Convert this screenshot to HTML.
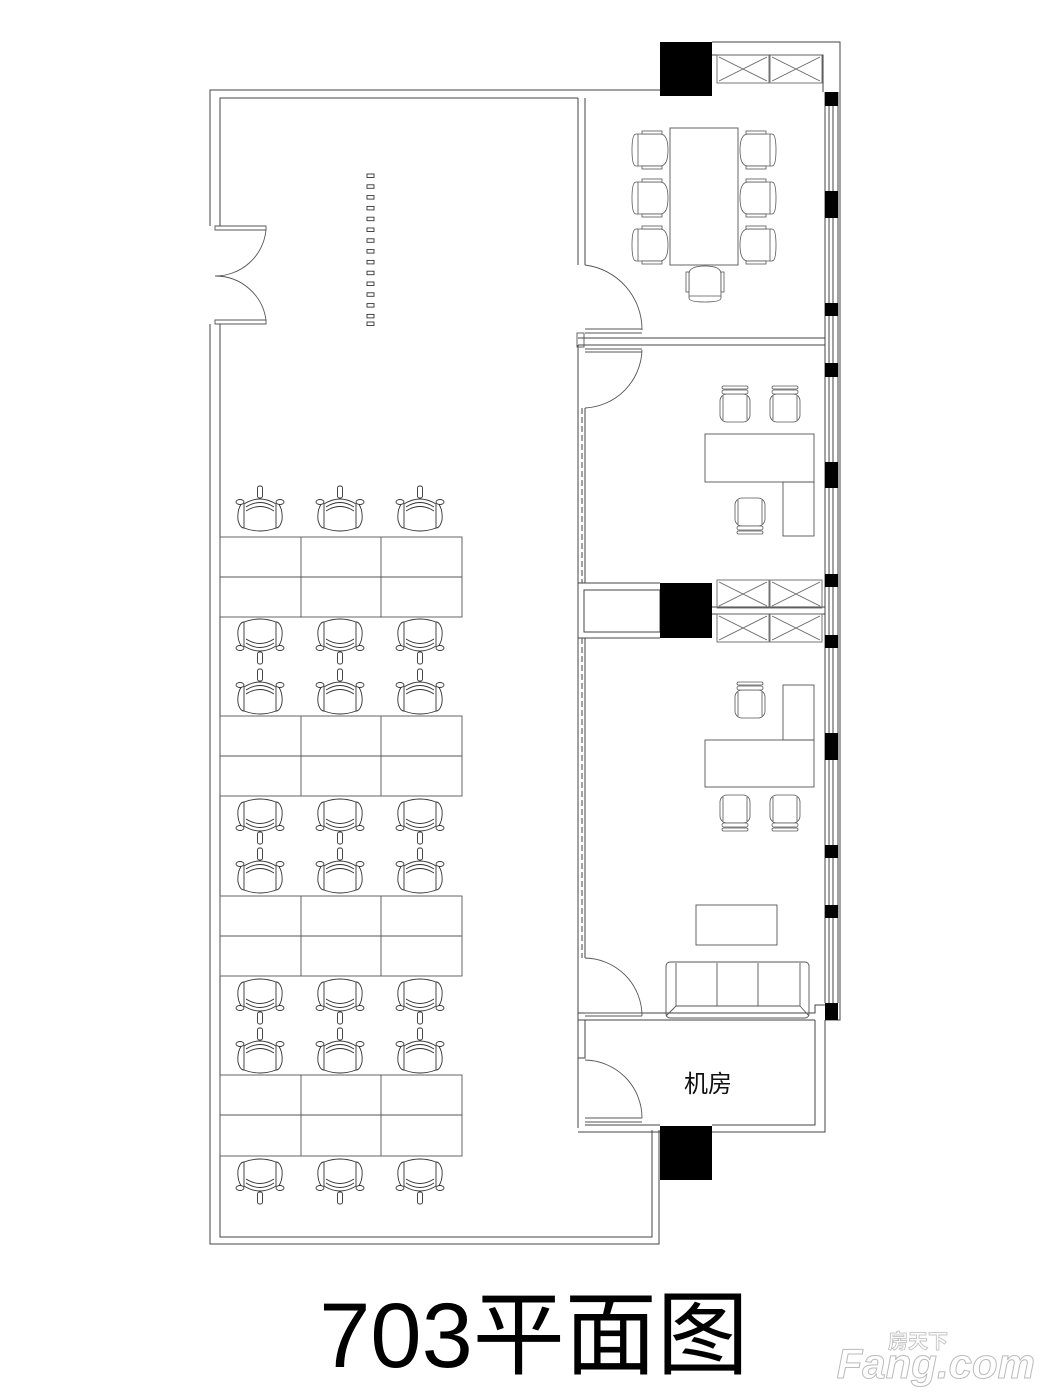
<!DOCTYPE html>
<html><head><meta charset="utf-8"><style>
html,body{margin:0;padding:0;background:#fff}
svg{display:block}
</style></head><body>
<svg width="1050" height="1400" viewBox="0 0 1050 1400" xmlns="http://www.w3.org/2000/svg">
<defs>
<g id="tc" fill="#fff" stroke="#333" stroke-width="0.9">
  <rect x="-2.5" y="-24" width="5" height="12" rx="2"/>
  <path d="M-17,-8 Q-23,-2 -22,10 Q-20,18 -16,18"/>
  <path d="M17,-8 Q23,-2 22,10 Q20,18 16,18"/>
  <ellipse cx="-20" cy="-8" rx="4" ry="2.5"/>
  <ellipse cx="20" cy="-8" rx="4" ry="2.5"/>
  <path d="M-16,-6 Q0,-16 16,-6 L16,18 Q0,24 -16,18 Z"/>
  <path d="M-14,-3 Q0,-12 14,-3" fill="none"/>
  <path d="M-14,1 Q0,-8 14,1" fill="none"/>
</g>
<g id="cc" fill="#fff" stroke="#555" stroke-width="0.8">
  <path d="M-14,-16 L10,-16 Q18,-16 18,0 Q18,16 10,16 L-14,16 Q-18,16 -18,0 Q-18,-16 -14,-16 Z"/>
  <path d="M-12,-16 L-12,16" fill="none"/>
  <rect x="-8" y="-19" width="20" height="3"/>
  <rect x="-8" y="16" width="20" height="3"/>
</g>
<g id="oc" fill="#fff" stroke="#555" stroke-width="0.8">
  <rect x="-15" y="-14" width="30" height="28" rx="7"/>
  <path d="M-12,-12 L-12,12 M12,-12 L12,12" fill="none"/>
  <rect x="-13" y="14" width="26" height="4" rx="2"/>
  <rect x="-13" y="19" width="26" height="3" rx="1.5"/>
</g>
<g id="cab" fill="none" stroke="#666" stroke-width="0.9">
  <rect x="0" y="0" width="52" height="28"/>
  <path d="M2,2 L50,26 M50,2 L2,26"/>
  <rect x="53" y="0" width="52" height="28"/>
  <path d="M55,2 L103,26 M103,2 L55,26"/>
</g>
</defs>

<g fill="none" stroke="#444" stroke-width="1">
  <path d="M660,90 L210,90 L210,226 M210,324 L210,1244 L659,1244 L659,1130"/>
  <path d="M578,98 L220,98 L220,226 M220,324 L220,1237 L652,1237 L652,1130"/>
  <path d="M712,42 L840,42 L840,1020 L825,1020"/>
  <path d="M712,55 L823,55 L823,92"/>
  <path d="M825,92 L825,1003 M829,92 L829,1003 M833,92 L833,1003 M838,92 L838,1003"/>
  <path d="M578,98 L578,265 M585,98 L585,265"/>
  <path d="M578,345 L578,1128 M585,408 L585,583 M585,638 L585,958"/>
  <path d="M582,408 L582,583 M582,638 L582,958" stroke-dasharray="6,3"/>
  <path d="M578,338 L825,338 M578,345 L825,345"/>
  <path d="M578,583 L660,583 M578,638 L660,638"/>
  <rect x="584" y="590" width="76" height="42"/>
  <path d="M712,607 L825,607 M712,614 L825,614"/>
  <path d="M578,1013 L815,1013 L815,1005 L825,1005 M585,1020 L815,1020"/>
  <path d="M815,1020 L815,1125 L712,1125 M825,1020 L825,1132 L712,1132"/>
  <path d="M578,1132 L660,1132 M585,1125 L660,1125"/>
  <rect x="578" y="1020" width="7" height="38"/>
</g>

<g fill="#000">
  <rect x="660" y="42" width="52" height="54"/>
  <rect x="660" y="583" width="52" height="55"/>
  <rect x="660" y="1126" width="52" height="54"/>
  <rect x="825" y="92" width="13" height="14"/>
  <rect x="825" y="191" width="13" height="27"/>
  <rect x="825" y="303" width="13" height="13"/>
  <rect x="825" y="363" width="13" height="14"/>
  <rect x="825" y="462" width="13" height="26"/>
  <rect x="825" y="574" width="13" height="13"/>
  <rect x="825" y="635" width="13" height="13"/>
  <rect x="825" y="733" width="13" height="27"/>
  <rect x="825" y="845" width="13" height="13"/>
  <rect x="825" y="905" width="13" height="13"/>
  <rect x="825" y="1003" width="13" height="17"/>
</g>

<use href="#cab" x="717" y="55"/>
<use href="#cab" x="717" y="580"/>
<use href="#cab" x="717" y="614"/>

<g fill="none" stroke="#555" stroke-width="0.9">
  <path d="M215,226 L266,226 L266,230 L215,230 Z"/>
  <path d="M215,320 L266,320 L266,324 L215,324 Z"/>
  <path d="M266,230 A51,51 0 0 1 215,276"/>
  <path d="M266,320 A51,51 0 0 0 215,276"/>
  <path d="M585,265 A65,65 0 0 1 642,330"/>
  <path d="M585,329 L642,329 M585,333 L642,333"/>
  <rect x="577" y="333" width="7" height="14"/>
  <path d="M585,349 L642,349 M585,352 L642,352"/>
  <path d="M642,350 A60,60 0 0 1 585,408"/>
  <path d="M585,958 A58,58 0 0 1 642,1016"/>
  <path d="M585,1013 L642,1013 M585,1016 L642,1016"/>
  <path d="M585,1060 A58,58 0 0 1 642,1118"/>
  <path d="M585,1118 L642,1118 M585,1122 L642,1122"/>
</g>

<g fill="#fff" stroke="#333" stroke-width="0.9">
  <rect x="367" y="174" width="7" height="3.5"/><rect x="367" y="184.8" width="7" height="3.5"/><rect x="367" y="195.6" width="7" height="3.5"/><rect x="367" y="206.4" width="7" height="3.5"/><rect x="367" y="217.2" width="7" height="3.5"/><rect x="367" y="228" width="7" height="3.5"/><rect x="367" y="238.8" width="7" height="3.5"/><rect x="367" y="249.6" width="7" height="3.5"/><rect x="367" y="260.4" width="7" height="3.5"/><rect x="367" y="271.2" width="7" height="3.5"/><rect x="367" y="282" width="7" height="3.5"/><rect x="367" y="292.8" width="7" height="3.5"/><rect x="367" y="303.6" width="7" height="3.5"/><rect x="367" y="314.4" width="7" height="3.5"/><rect x="367" y="322" width="7" height="3.5"/>
</g>

<g fill="none" stroke="#555" stroke-width="0.9">
  <rect x="220" y="537" width="242" height="80"/><path d="M220,577 L462,577 M301,537 L301,617 M381,537 L381,617"/>
  <rect x="220" y="716" width="242" height="80"/><path d="M220,756 L462,756 M301,716 L301,796 M381,716 L381,796"/>
  <rect x="220" y="896" width="242" height="80"/><path d="M220,936 L462,936 M301,896 L301,976 M381,896 L381,976"/>
  <rect x="220" y="1075" width="242" height="81"/><path d="M220,1115 L462,1115 M301,1075 L301,1156 M381,1075 L381,1156"/>
  <rect x="670" y="128" width="68" height="137"/>
  <rect x="705" y="434" width="109" height="48"/>
  <rect x="783" y="482" width="31" height="54"/>
  <rect x="783" y="685" width="31" height="55"/>
  <rect x="705" y="740" width="109" height="47"/>
  <rect x="696" y="905" width="81" height="40"/>
  <rect x="666" y="962" width="143" height="56" rx="4"/>
  <path d="M676,963 L676,1006 L800,1006 L800,963 M717,963 L717,1006 M758,963 L758,1006 M666,1016 L676,1006 M809,1016 L800,1006"/>
</g>

<g>
  <use href="#tc" x="260" y="510"/><use href="#tc" x="340" y="510"/><use href="#tc" x="420" y="510"/>
  <g transform="translate(0,1280) scale(1,-1)"><use href="#tc" x="260" y="640"/><use href="#tc" x="340" y="640"/><use href="#tc" x="420" y="640"/></g>
  <use href="#tc" x="260" y="693"/><use href="#tc" x="340" y="693"/><use href="#tc" x="420" y="693"/>
  <g transform="translate(0,1640) scale(1,-1)"><use href="#tc" x="260" y="820"/><use href="#tc" x="340" y="820"/><use href="#tc" x="420" y="820"/></g>
  <use href="#tc" x="260" y="872"/><use href="#tc" x="340" y="872"/><use href="#tc" x="420" y="872"/>
  <g transform="translate(0,2000) scale(1,-1)"><use href="#tc" x="260" y="1000"/><use href="#tc" x="340" y="1000"/><use href="#tc" x="420" y="1000"/></g>
  <use href="#tc" x="260" y="1052"/><use href="#tc" x="340" y="1052"/><use href="#tc" x="420" y="1052"/>
  <g transform="translate(0,2360) scale(1,-1)"><use href="#tc" x="260" y="1180"/><use href="#tc" x="340" y="1180"/><use href="#tc" x="420" y="1180"/></g>
</g>

<use href="#cc" x="650" y="150"/><use href="#cc" x="650" y="198"/><use href="#cc" x="650" y="245"/>
<g transform="translate(1408,0) scale(-1,1)"><use href="#cc" x="650" y="150"/><use href="#cc" x="650" y="198"/><use href="#cc" x="650" y="245"/></g>
<g transform="translate(705,284) rotate(-90)"><use href="#cc" x="0" y="0"/></g>

<g transform="translate(0,820) scale(1,-1)"><use href="#oc" x="735" y="412"/><use href="#oc" x="785" y="412"/></g>
<use href="#oc" x="750" y="512"/>
<g transform="translate(0,1408) scale(1,-1)"><use href="#oc" x="750" y="704"/></g>
<use href="#oc" x="735" y="809"/><use href="#oc" x="785" y="809"/>

<text x="708" y="1092" font-family="Liberation Sans, Noto Sans CJK SC, sans-serif" font-size="24" fill="#111" text-anchor="middle">机房</text>
<text x="534" y="1367" font-family="Liberation Sans, Noto Sans CJK SC, sans-serif" font-size="92" fill="#000" text-anchor="middle">703平面图</text>
<text x="1035" y="1378" font-family="Liberation Sans, Noto Sans CJK SC, sans-serif" font-size="42" font-weight="bold" font-style="italic" fill="#fff" stroke="#bbb" stroke-width="1" text-anchor="end">Fang.com</text>
<text x="888" y="1348" font-family="Noto Sans CJK SC, sans-serif" font-size="20" font-weight="bold" fill="#fff" stroke="#bbb" stroke-width="0.8">房天下</text>
</svg>
</body></html>
